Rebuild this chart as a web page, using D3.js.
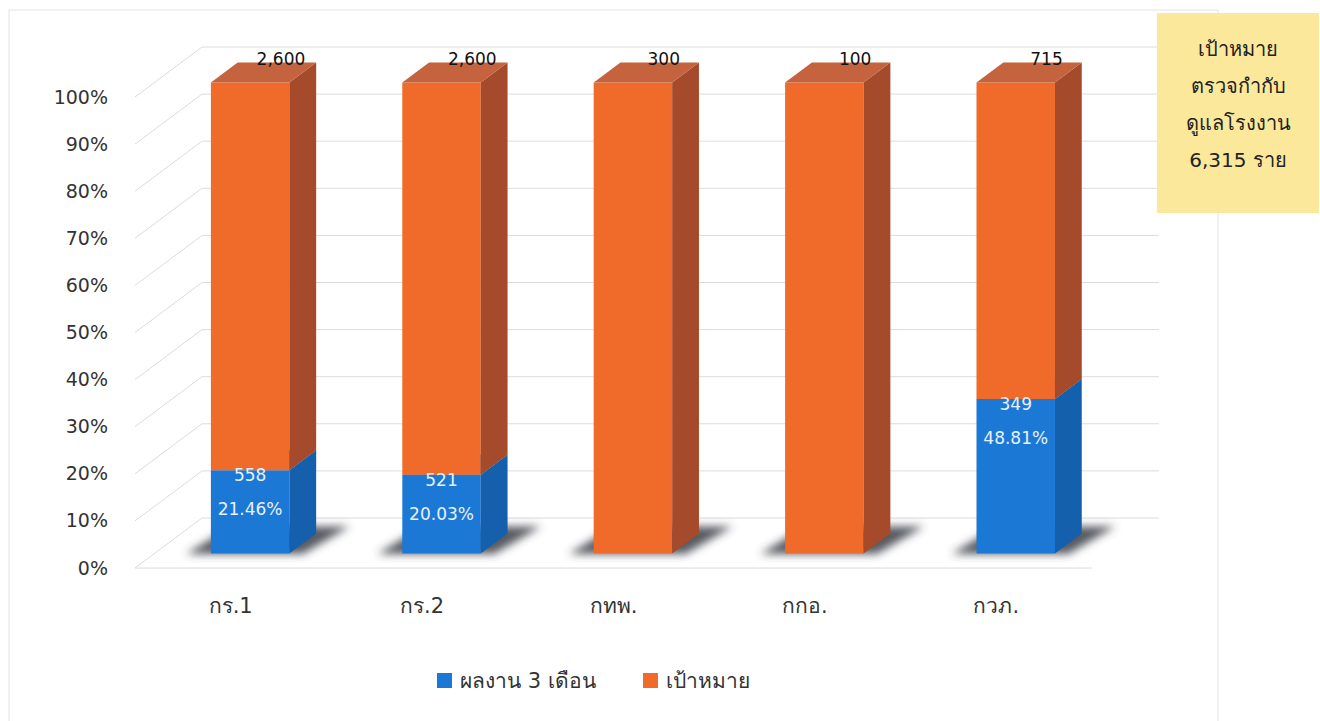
<!DOCTYPE html>
<html>
<head>
<meta charset="utf-8">
<script src="https://cdn.jsdelivr.net/npm/d3@7"></script>
<style>
  body { margin: 0; background: #fff; }
  svg { display: block; font-family: Tahoma, "DejaVu Sans", "Noto Sans", sans-serif; }
</style>
</head>
<body>
<svg id="chart" width="1320" height="721"></svg>
<script>
// data
const categories = ["กร.1", "กร.2", "กทพ.", "กกอ.", "กวภ."];
const done3m = [558, 521, 0, 0, 349];        // ผลงาน 3 เดือน
const target = [2600, 2600, 300, 100, 715];  // เป้าหมาย
const pctLabels = ["21.46%", "20.03%", "", "", "48.81%"];
const seriesNames = ["ผลงาน 3 เดือน", "เป้าหมาย"];
const yTicks = [0, .1, .2, .3, .4, .5, .6, .7, .8, .9, 1];
const boxLines = ["เป้าหมาย", "ตรวจกำกับ", "ดูแลโรงงาน"];

const colors = {
  front: ["#1b79d5", "#f06a2a"],
  side: ["#1460ad", "#a54a2b"],
  top: ["#3b8be0", "#c4633d"]
}

// depth of the 3d box (oblique projection)
const DX = 67, DY = 50;
const z0 = 0.29, z1 = 0.69;

const svg = d3.select("#chart");

const table = categories.map((c, i) => ({cat: c, done: done3m[i], target: target[i]}));
const stack = d3.stack()
  .keys(["done", "target"])
  .offset(d3.stackOffsetExpand);
const layers = stack(table);

let x = d3.scaleBand()
  .domain(categories)
  .range([135, 1092])
  .paddingInner(0.59)
  .paddingOuter(0.295);
let y = d3.scaleLinear()
  .domain([0, 1])
  .range([568, 97]);

// project world point (xv, yv, z) onto screen
function P(xv, yv, z) {
  return [xv + z * DX, y(yv) - z * DY];
}
function poly(pts) {
  return "M" + pts.map(p => p.join(",")).join("L") + "Z";
}

// frame
svg.append("path")
  .attr("d", "M9,721V10H1218V721")
  .attr("fill", "none")
  .attr("stroke", "#e2e2e2")
  .attr("stroke-width", 1);

// walls gridlines
let grid = svg.append("g").attr("stroke", "#dcdcdc").attr("stroke-width", 1).attr("fill", "none");
grid.selectAll("path.back")
  .data(yTicks).enter()
  .append("path")
  .attr("d", d => "M" + P(135, d, 1).join(",") + "L" + P(1092, d, 1).join(","));
grid.selectAll("path.side")
  .data(yTicks).enter()
  .append("path")
  .attr("d", d => "M" + P(135, d, 0).join(",") + "L" + P(135, d, 1).join(","));
grid.append("path")
  .attr("d", "M" + P(135, 0, 0).join(",") + "L" + P(1092, 0, 0).join(","));

// shadow filter
let defs = svg.append("defs");
defs.append("filter")
  .attr("id", "blur")
  .attr("x", "-30%").attr("y", "-60%").attr("width", "160%").attr("height", "220%")
  .append("feGaussianBlur")
  .attr("stdDeviation", 4);

let bw = x.bandwidth();

svg.append("g")
  .attr("filter", "url(#blur)")
  .selectAll("path")
  .data(categories).enter()
  .append("path")
  .attr("d", c => {
    let xl = x(c) - 24, xr = x(c) + bw + 14;
    return poly([P(xl, 0, z0 - 0.01), P(xr, 0, z0 - 0.01), P(xr + 10, 0, z1 + 0.14), P(xl + 8, 0, z1 + 0.14)]);
  })
  .attr("fill", "#3a3d44")
  .attr("opacity", 0.85);

// bars
let bars = svg.append("g");
categories.forEach((c, i) => {
  let xl = x(c), xr = x(c) + bw;
  layers.forEach((layer, k) => {
    let [a, b] = layer[i];
    if (b - a <= 0) return;
    bars.append("path")
      .attr("d", poly([P(xl, a, z0), P(xr, a, z0), P(xr, b, z0), P(xl, b, z0)]))
      .attr("fill", colors.front[k]);
    bars.append("path")
      .attr("d", poly([P(xr, a, z0), P(xr, a, z1), P(xr, b, z1), P(xr, b, z0)]))
      .attr("fill", colors.side[k]);
    bars.append("path")
      .attr("d", poly([P(xl, b, z0), P(xr, b, z0), P(xr, b, z1), P(xl, b, z1)]))
      .attr("fill", colors.top[k]);
  });
});

// value labels
let labels = svg.append("g").attr("text-anchor", "middle");
labels.selectAll("text.top")
  .data(table).enter()
  .append("text")
  .attr("x", d => P(x(d.cat) + bw / 2, 1, z1)[0] + 4)
  .attr("y", d => P(0, 1, z1)[1] + 2)
  .attr("font-size", 17)
  .attr("fill", "#111")
  .text(d => d3.format(",")(d.target));

let withDone = table.map((d, i) => ({...d, i})).filter(d => d.done > 0);
labels.selectAll("text.done")
  .data(withDone).enter()
  .append("text")
  .attr("x", d => P(x(d.cat) + bw / 2, 0, z0)[0])
  .attr("y", d => P(0, layers[0][d.i][1], z0)[1] + 11)
  .attr("font-size", 17)
  .attr("fill", "#e9f0fb")
  .text(d => d.done);
labels.selectAll("text.pct")
  .data(withDone).enter()
  .append("text")
  .attr("x", d => P(x(d.cat) + bw / 2, 0, z0)[0])
  .attr("y", d => P(0, layers[0][d.i][1], z0)[1] + 45)
  .attr("font-size", 17)
  .attr("fill", "#e9f0fb")
  .text(d => pctLabels[d.i]);

// y axis
let yAxis = svg.append("g")
  .attr("transform", "translate(116,0)")
  .call(d3.axisLeft(y).tickValues(yTicks).tickFormat(d3.format(".0%")).tickSize(0).tickPadding(8));
yAxis.select(".domain").remove();
yAxis.selectAll("text")
  .attr("font-size", 19)
  .attr("font-family", "Tahoma, 'DejaVu Sans', sans-serif")
  .attr("fill", "#333");

// x axis
let xAxis = svg.append("g")
  .attr("transform", "translate(0,590)")
  .call(d3.axisBottom(x).tickSize(0).tickPadding(8));
xAxis.select(".domain").remove();
xAxis.selectAll("text")
  .attr("font-size", 21)
  .attr("font-family", "Tahoma, 'DejaVu Sans', 'Noto Sans', sans-serif")
  .attr("fill", "#333");

// legend
let legend = svg.append("g").attr("transform", "translate(437,673)");
let legendX = [0, 206];
let item = legend.selectAll("g")
  .data(seriesNames).enter()
  .append("g")
  .attr("transform", (d, i) => `translate(${legendX[i]},0)`);
item.append("rect")
  .attr("width", 15).attr("height", 15)
  .attr("fill", (d, i) => colors.front[i]);
item.append("text")
  .attr("x", 23).attr("y", 15)
  .attr("font-size", 21)
  .attr("fill", "#333")
  .text(d => d);

// yellow note box
let box = svg.append("g").attr("transform", "translate(1157,13)");
box.append("rect")
  .attr("width", 162).attr("height", 200)
  .attr("fill", "#fbe89b");
let allLines = boxLines.concat([d3.format(",")(d3.sum(target)) + " ราย"]);
box.selectAll("text")
  .data(allLines).enter()
  .append("text")
  .attr("x", 81)
  .attr("y", (d, i) => 43 + i * 37)
  .attr("text-anchor", "middle")
  .attr("font-size", 20)
  .attr("fill", "#222")
  .text(d => d);
</script>
</body>
</html>
